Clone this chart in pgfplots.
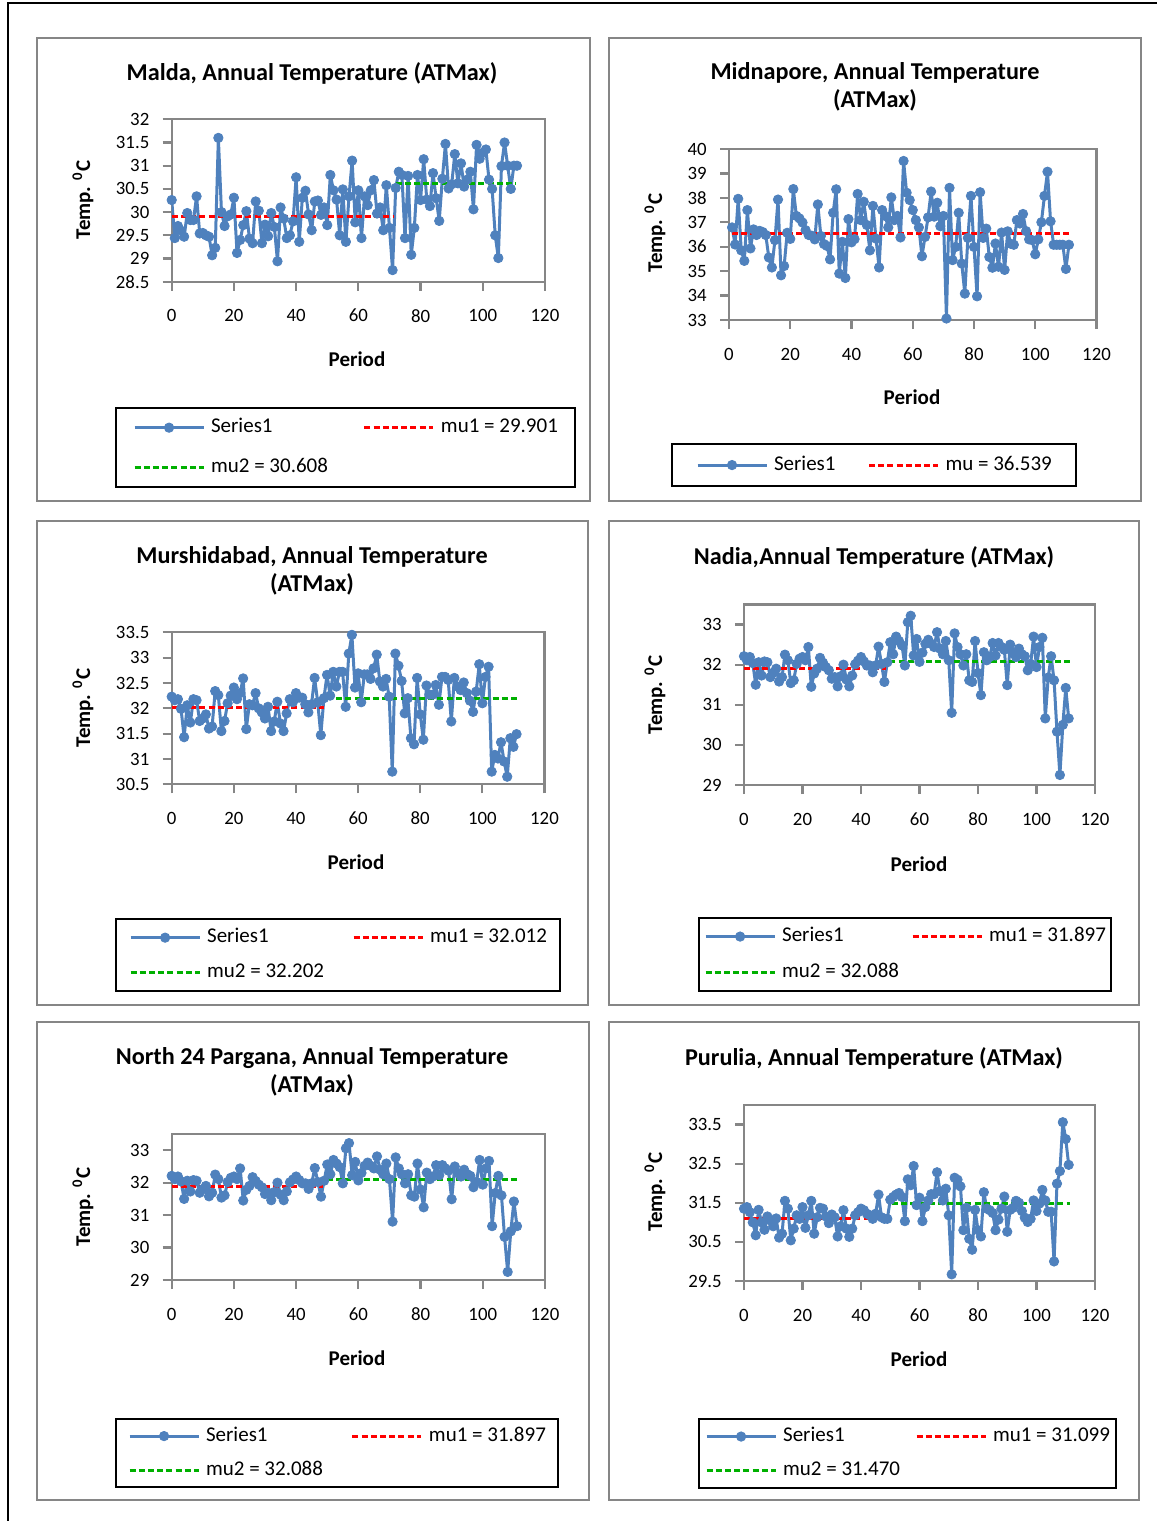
\documentclass[border=0pt]{standalone}
\usepackage{fontspec}
\setmainfont{Carlito}
\usepackage{pgfplots}
\pgfplotsset{compat=1.18}
\usepackage{pgfplotstable}

\definecolor{serblue}{RGB}{79,129,189}
\definecolor{mured}{RGB}{255,0,0}
\definecolor{mugreen}{RGB}{0,176,0}
\definecolor{framegray}{RGB}{134,134,134}

% annual maximum temperature series, one value per period
\pgfplotstableread{
t
30.26
29.44
29.70
29.60
29.47
29.98
29.83
29.83
30.34
29.54
29.55
29.50
29.47
29.07
29.23
31.60
30.00
29.70
29.91
29.95
30.31
29.12
29.40
29.72
30.02
29.43
29.33
30.23
30.03
29.33
29.73
29.48
29.98
29.68
28.94
30.10
29.86
29.44
29.50
29.80
30.75
29.36
30.31
30.46
29.95
29.61
30.23
30.25
29.94
30.10
29.72
30.80
30.47
30.27
29.50
30.49
29.36
30.34
31.11
29.78
30.47
29.44
30.34
30.15
30.47
30.69
29.97
30.10
29.61
30.58
29.66
28.75
30.52
30.87
30.80
29.44
30.78
29.08
29.66
30.80
30.26
31.14
30.27
30.13
30.84
30.30
29.81
30.72
31.47
30.51
30.60
31.25
30.62
31.05
30.55
30.70
30.87
30.06
31.45
31.15
31.28
31.35
30.70
30.50
29.50
29.01
30.99
31.50
31.00
30.50
31.00
31.00
}\malda

\pgfplotstableread{
t
36.79
36.09
37.96
35.85
35.42
37.50
35.93
36.71
36.48
36.65
36.60
36.48
35.56
35.15
36.27
37.93
34.83
35.21
36.57
36.32
38.36
37.26
37.16
36.99
36.68
36.48
36.45
36.30
37.73
36.44
36.11
36.03
35.48
37.39
38.35
34.90
36.20
34.72
37.13
36.18
36.31
38.16
37.09
37.84
36.89
35.85
37.67
36.33
35.15
37.50
37.26
36.79
38.02
37.09
37.26
36.38
39.51
38.21
37.91
37.50
37.09
36.79
35.61
36.40
37.20
38.26
37.23
37.80
36.84
37.26
33.06
38.41
35.45
35.99
37.39
35.31
34.08
36.36
38.08
35.99
33.97
38.23
36.36
36.74
35.58
35.14
36.13
35.18
36.58
35.05
36.63
36.12
36.08
37.09
36.95
37.34
36.64
36.30
36.27
35.69
36.30
37.00
38.08
39.07
37.04
36.08
36.08
36.08
36.08
35.09
36.08
}\midnapore

\pgfplotstableread{
t
32.23
32.16
32.18
31.99
31.43
32.06
31.72
32.18
32.16
31.75
31.80
31.88
31.60
31.64
32.34
32.26
31.55
31.75
32.10
32.25
32.41
32.18
32.30
32.59
31.59
32.08
32.06
32.30
32.00
31.92
31.80
32.03
31.55
31.74
32.13
31.70
31.55
31.90
32.18
32.12
32.30
32.21
32.21
32.08
31.92
32.08
32.60
32.12
31.47
32.20
32.66
32.25
32.72
32.43
32.72
32.72
32.03
33.08
33.45
32.41
32.69
32.12
32.67
32.67
32.58
32.79
33.06
32.53
32.43
32.58
32.23
30.75
33.08
32.84
32.54
31.90
32.20
31.41
31.29
32.60
31.88
31.38
32.45
32.27
32.27
32.46
32.07
32.62
32.62
32.56
31.74
32.60
32.43
32.36
32.51
32.30
32.15
31.93
32.33
32.87
32.10
32.62
32.82
30.75
31.08
31.01
31.33
30.95
30.65
31.41
31.24
31.49
}\murshidabad

\pgfplotstableread{
t
32.21
32.11
32.19
32.04
31.50
32.06
31.73
32.08
32.06
31.69
31.80
31.90
31.58
31.69
32.25
32.11
31.54
31.61
32.02
32.15
32.19
32.11
32.44
31.45
31.78
31.90
32.17
32.05
31.94
31.86
31.65
31.69
31.46
31.71
32.00
31.63
31.46
31.73
32.01
32.10
32.19
32.08
31.98
31.98
31.81
31.98
32.45
32.02
31.57
32.06
32.56
32.26
32.70
32.59
32.48
31.98
33.06
33.22
32.23
32.64
32.07
32.30
32.52
32.62
32.52
32.44
32.81
32.40
32.26
32.59
32.11
30.80
32.78
32.44
32.26
31.98
32.26
31.61
31.57
32.59
31.79
31.24
32.31
32.11
32.19
32.54
32.23
32.54
32.44
32.37
31.49
32.50
32.29
32.19
32.40
32.26
32.21
31.86
32.02
32.70
31.94
32.44
32.67
30.66
31.68
32.21
31.61
30.33
29.25
30.50
31.42
30.66
}\nadia

\pgfplotstableread{
t
31.35
31.39
31.26
31.00
30.67
31.32
31.00
30.81
31.15
31.05
30.90
31.10
30.61
30.71
31.55
31.35
30.54
30.84
31.18
31.09
31.39
30.86
31.18
31.55
30.71
31.13
31.37
31.35
31.15
30.98
31.20
31.13
30.64
30.90
31.31
30.84
30.63
30.84
31.18
31.26
31.35
31.31
31.22
31.18
31.09
31.22
31.71
31.13
31.09
31.09
31.58
31.65
31.71
31.75
31.65
31.03
32.10
31.95
32.44
31.44
31.63
31.03
31.39
31.56
31.72
31.72
32.28
31.80
31.56
31.86
31.18
29.67
32.14
32.09
31.92
30.80
31.37
30.58
30.30
31.32
30.80
30.64
31.77
31.35
31.31
31.24
30.80
31.07
31.35
31.66
30.76
31.32
31.37
31.55
31.50
31.29
31.12
31.01
31.09
31.56
31.29
31.48
31.83
31.56
31.27
31.27
30.00
31.99
32.31
33.56
33.13
32.47
}\purulia

\pgfplotsset{
  panel/.style={
    scale only axis, anchor=south west,
    xmin=0, xmax=120, xtick={0,20,...,120},
    axis line style={draw=framegray, line width=1.1pt},
    tick style={draw=framegray, line width=1.1pt},
    major tick length=4.5pt, tick align=outside, tick pos=left,
    /pgf/number format/assume math mode=true,
    tick label style={font=\fontsize{9.4}{10}\selectfont, inner sep=0pt},
    xticklabel style={anchor=center, yshift=-12.5pt},
    yticklabel style={anchor=east, xshift=-6.5pt},
    legend columns=2,
    legend cell align=left,
    legend image code/.code={\draw[mark repeat=2,mark phase=2,##1] plot coordinates {(0pt,0pt) (17.25pt,0pt) (34.5pt,0pt)};},
    legend style={anchor=north west, draw=black, line width=1.1pt,
      font=\fontsize{10.5}{12}\selectfont,
      nodes={inner sep=0pt, text height=7.5pt, text depth=2.5pt},
      /tikz/every odd column/.append style={column sep=3pt}},
  },
  series/.style={serblue, line width=1.5pt, line join=round, mark=*, mark size=2.35pt,
    mark options={fill=serblue, draw=serblue, line width=0.4pt, solid}},
  mu1/.style={mured, line width=1.5pt, dash pattern=on 3pt off 1.6pt},
  mu2/.style={mugreen, line width=1.5pt, dash pattern=on 3pt off 1.6pt},
}

\begin{document}
\begin{tikzpicture}
\useasboundingbox (0pt,0pt) rectangle (578.5pt,-760.5pt);

% page frame and chart borders, titles and axis labels (1 unit = 0.5pt, y downwards)
\begin{scope}[x=0.5pt, y=-0.5pt]
  \draw[black, line width=1pt] (8,1521) -- (8,3) -- (1157,3);
  \foreach \a/\b/\c/\d in {37/38/590/501, 609/38/1141/501, 37/521/588/1005,
                           609/521/1139/1005, 37/1022/589/1500, 609/1022/1139/1500}
    \draw[framegray, line width=1pt] (\a,\b) rectangle (\c,\d);

  \tikzset{ttl/.style={font=\bfseries\fontsize{12.1}{14}\selectfont, align=center},
           lab/.style={font=\bfseries\fontsize{10.5}{12}\selectfont}}
  \node[ttl] at (312,73)   {Malda, Annual Temperature (ATMax)};
  \node[ttl] at (875,87)   {Midnapore, Annual Temperature\\(ATMax)};
  \node[ttl] at (312,571)  {Murshidabad, Annual Temperature\\(ATMax)};
  \node[ttl] at (874,557)  {Nadia,Annual Temperature (ATMax)};
  \node[ttl] at (312,1072) {North 24 Pargana, Annual Temperature\\(ATMax)};
  \node[ttl] at (874,1058) {Purulia, Annual Temperature (ATMax)};

  \foreach \x/\y in {83/200, 655/233, 83/708, 655/695, 83/1207, 655/1192}
    \node[lab, rotate=90] at (\x,\y) {Temp. \textsuperscript{0}C};
  \foreach \x/\y in {357/359, 912/397, 356/862, 919/864, 357/1358, 919/1359}
    \node[lab] at (\x,\y) {Period};
\end{scope}

% Malda
\begin{axis}[panel, at={(85.85pt,-140.85pt)}, width=186.65pt, height=81.2pt,
  ymin=28.5, ymax=32, ytick={28.5,29,...,32},
  legend style={at={(-0.152,-0.772)}, inner xsep=8.5pt, inner ysep=4.75pt, row sep=10pt,
    /tikz/every even column/.append style={column sep=17.5pt}}]
  \addplot[series] table[x expr=\coordindex, y=t] {\malda};
  \addlegendentry{Series1}
  \addplot[mu1] coordinates {(0,29.901) (71,29.901)};
  \addlegendentry{mu1 = 29.901}
  \addplot[mu2] coordinates {(72,30.608) (110.5,30.608)};
  \addlegendentry{mu2 = 30.608}
\end{axis}

% Midnapore
\begin{axis}[panel, at={(364.5pt,-160pt)}, width=183.75pt, height=85.5pt,
  ymin=33, ymax=40, ytick={33,34,...,40},
  legend style={at={(-0.158,-0.719)}, inner xsep=12pt, inner ysep=5.5pt,
    /tikz/every even column/.append style={column sep=16pt}}]
  \addplot[series] table[x expr=\coordindex+1, y=t] {\midnapore};
  \addlegendentry{Series1}
  \addplot[mu1] coordinates {(1,36.539) (111,36.539)};
  \addlegendentry{mu = 36.539}
\end{axis}

% Murshidabad
\begin{axis}[panel, at={(85.85pt,-392.15pt)}, width=186.4pt, height=76pt,
  ymin=30.5, ymax=33.5, ytick={30.5,31,...,33.5},
  legend style={at={(-0.152,-0.880)}, inner xsep=6.5pt, inner ysep=4.25pt, row sep=7.5pt,
    /tikz/every even column/.append style={column sep=14pt}}]
  \addplot[series] table[x expr=\coordindex, y=t] {\murshidabad};
  \addlegendentry{Series1}
  \addplot[mu1] coordinates {(0,32.012) (49,32.012)};
  \addlegendentry{mu1 = 32.012}
  \addplot[mu2] coordinates {(50,32.202) (111.5,32.202)};
  \addlegendentry{mu2 = 32.202}
\end{axis}

% Nadia
\begin{axis}[panel, at={(372pt,-392.5pt)}, width=175.5pt, height=90.25pt,
  ymin=29, ymax=33.5, ytick={29,30,...,33},
  legend style={at={(-0.131,-0.731)}, inner xsep=2.5pt, inner ysep=4.25pt, row sep=8pt,
    /tikz/every even column/.append style={column sep=6pt}}]
  \addplot[series] table[x expr=\coordindex, y=t] {\nadia};
  \addlegendentry{Series1}
  \addplot[mu1] coordinates {(0,31.897) (48.6,31.897)};
  \addlegendentry{mu1 = 31.897}
  \addplot[mu2] coordinates {(49.7,32.088) (111.3,32.088)};
  \addlegendentry{mu2 = 32.088}
\end{axis}

% North 24 Pargana
\begin{axis}[panel, at={(85.85pt,-640pt)}, width=186.65pt, height=73pt,
  ymin=29, ymax=33.5, ytick={29,30,...,33},
  legend style={at={(-0.152,-0.945)}, inner xsep=6pt, inner ysep=3.5pt, row sep=7pt,
    /tikz/every even column/.append style={column sep=14pt}}]
  \addplot[series] table[x expr=\coordindex, y=t] {\nadia};
  \addlegendentry{Series1}
  \addplot[mu1] coordinates {(0,31.897) (48.7,31.897)};
  \addlegendentry{mu1 = 31.897}
  \addplot[mu2] coordinates {(49.9,32.088) (111.3,32.088)};
  \addlegendentry{mu2 = 32.088}
\end{axis}

% Purulia
\begin{axis}[panel, at={(372pt,-640.5pt)}, width=175.5pt, height=88pt,
  ymin=29.5, ymax=34, ytick={29.5,30.5,...,33.5},
  legend style={at={(-0.131,-0.778)}, inner xsep=3pt, inner ysep=3.75pt, row sep=7pt,
    /tikz/every even column/.append style={column sep=7.5pt}}]
  \addplot[series] table[x expr=\coordindex, y=t] {\purulia};
  \addlegendentry{Series1}
  \addplot[mu1] coordinates {(0,31.099) (48.5,31.099)};
  \addlegendentry{mu1 = 31.099}
  \addplot[mu2] coordinates {(50.5,31.470) (111.5,31.470)};
  \addlegendentry{mu2 = 31.470}
\end{axis}
\end{tikzpicture}
\end{document}
